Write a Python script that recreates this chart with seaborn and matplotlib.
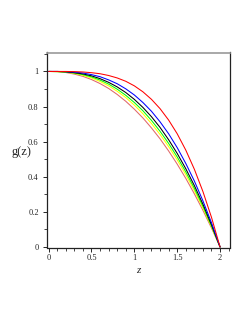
import numpy as np
import pandas as pd
import matplotlib
matplotlib.use("Agg")
import matplotlib.pyplot as plt
from matplotlib.ticker import MultipleLocator
import seaborn as sns

z = [0.0, 0.1, 0.2, 0.3, 0.4, 0.5, 0.6, 0.7, 0.8, 0.9, 1.0,
     1.1, 1.2, 1.3, 1.4, 1.5, 1.6, 1.7, 1.8, 1.9, 2.0]

g_red = [1.000, 1.000, 1.000, 0.999, 0.997, 0.993, 0.987, 0.977, 0.963, 0.944, 0.918,
         0.884, 0.841, 0.788, 0.723, 0.645, 0.552, 0.443, 0.316, 0.169, 0.0]
g_blue = [1.000, 1.000, 0.999, 0.996, 0.991, 0.982, 0.970, 0.952, 0.930, 0.901, 0.866,
          0.823, 0.773, 0.713, 0.645, 0.566, 0.476, 0.376, 0.263, 0.138, 0.0]
g_black = [1.000, 1.000, 0.998, 0.993, 0.986, 0.975, 0.959, 0.938, 0.912, 0.880, 0.841,
           0.795, 0.742, 0.681, 0.611, 0.533, 0.446, 0.350, 0.244, 0.127, 0.0]
g_green = [1.000, 0.999, 0.997, 0.991, 0.982, 0.969, 0.951, 0.928, 0.899, 0.864, 0.823,
           0.776, 0.721, 0.659, 0.590, 0.513, 0.428, 0.334, 0.232, 0.120, 0.0]
g_yellow = [1.000, 0.999, 0.996, 0.989, 0.978, 0.963, 0.943, 0.918, 0.887, 0.851, 0.808,
            0.759, 0.703, 0.641, 0.572, 0.496, 0.412, 0.321, 0.222, 0.115, 0.0]
g_salmon = [1.000, 0.999, 0.994, 0.985, 0.972, 0.954, 0.931, 0.903, 0.869, 0.830, 0.785,
            0.735, 0.678, 0.616, 0.547, 0.472, 0.391, 0.303, 0.209, 0.108, 0.0]

series = {"red": g_red, "blue": g_blue, "black": g_black,
          "green": g_green, "yellow": g_yellow, "salmon": g_salmon}
colors = {"red": "#ff0000", "blue": "#0000ff", "black": "#000000",
          "green": "#00ff00", "yellow": "#ffff00", "salmon": "#e06868"}

rows = []
for name, vals in series.items():
    for zi, gi in zip(z, vals):
        rows.append({"z": zi, "g": gi, "curve": name})
df = pd.DataFrame(rows)

sns.set_style("white")
plt.rcParams["font.family"] = ["Liberation Serif", "DejaVu Serif"]

fig = plt.figure(figsize=(2.49, 3.23), dpi=100)
ax = fig.add_axes([47 / 249, 1 - 247.5 / 323, 183 / 249, 195 / 323])

sns.lineplot(data=df, x="z", y="g", hue="curve", palette=colors,
             hue_order=list(series.keys())[::-1], linewidth=0.75,
             legend=False, ax=ax, sort=False)

ax.set_xlim(-0.019, 2.116)
ax.set_ylim(-0.003, 1.108)

ax.set_xticks([0, 0.5, 1, 1.5, 2])
ax.set_xticklabels(["0", "0.5", "1", "1.5", "2"])
ax.set_yticks([0, 0.2, 0.4, 0.6, 0.8, 1])
ax.set_yticklabels(["0", "0.2", "0.4", "0.6", "0.8", "1"])
ax.xaxis.set_minor_locator(MultipleLocator(0.1))
ax.yaxis.set_minor_locator(MultipleLocator(0.1))

ax.tick_params(axis="both", which="major", direction="out", length=3,
               width=0.7, labelsize=6, bottom=True, left=True)
ax.tick_params(axis="y", which="major", pad=3)
ax.tick_params(axis="x", which="major", pad=1.5)
ax.tick_params(axis="both", which="minor", direction="out", length=2,
               width=0.6, bottom=True, left=True)

for side in ["left", "bottom", "right"]:
    ax.spines[side].set_color("#222222")
    ax.spines[side].set_linewidth(0.9)
ax.spines["top"].set_color("#999999")
ax.spines["top"].set_linewidth(1.2)

ax.set_xlabel("z", fontsize=8, style="italic")
ax.set_ylabel("g(z)", fontsize=9, rotation=0, ha="center", va="center")
ax.xaxis.set_label_coords(0.5, -0.095)
ax.yaxis.set_label_coords(-0.14, 0.49)

fig.savefig("out.png", dpi=100)
